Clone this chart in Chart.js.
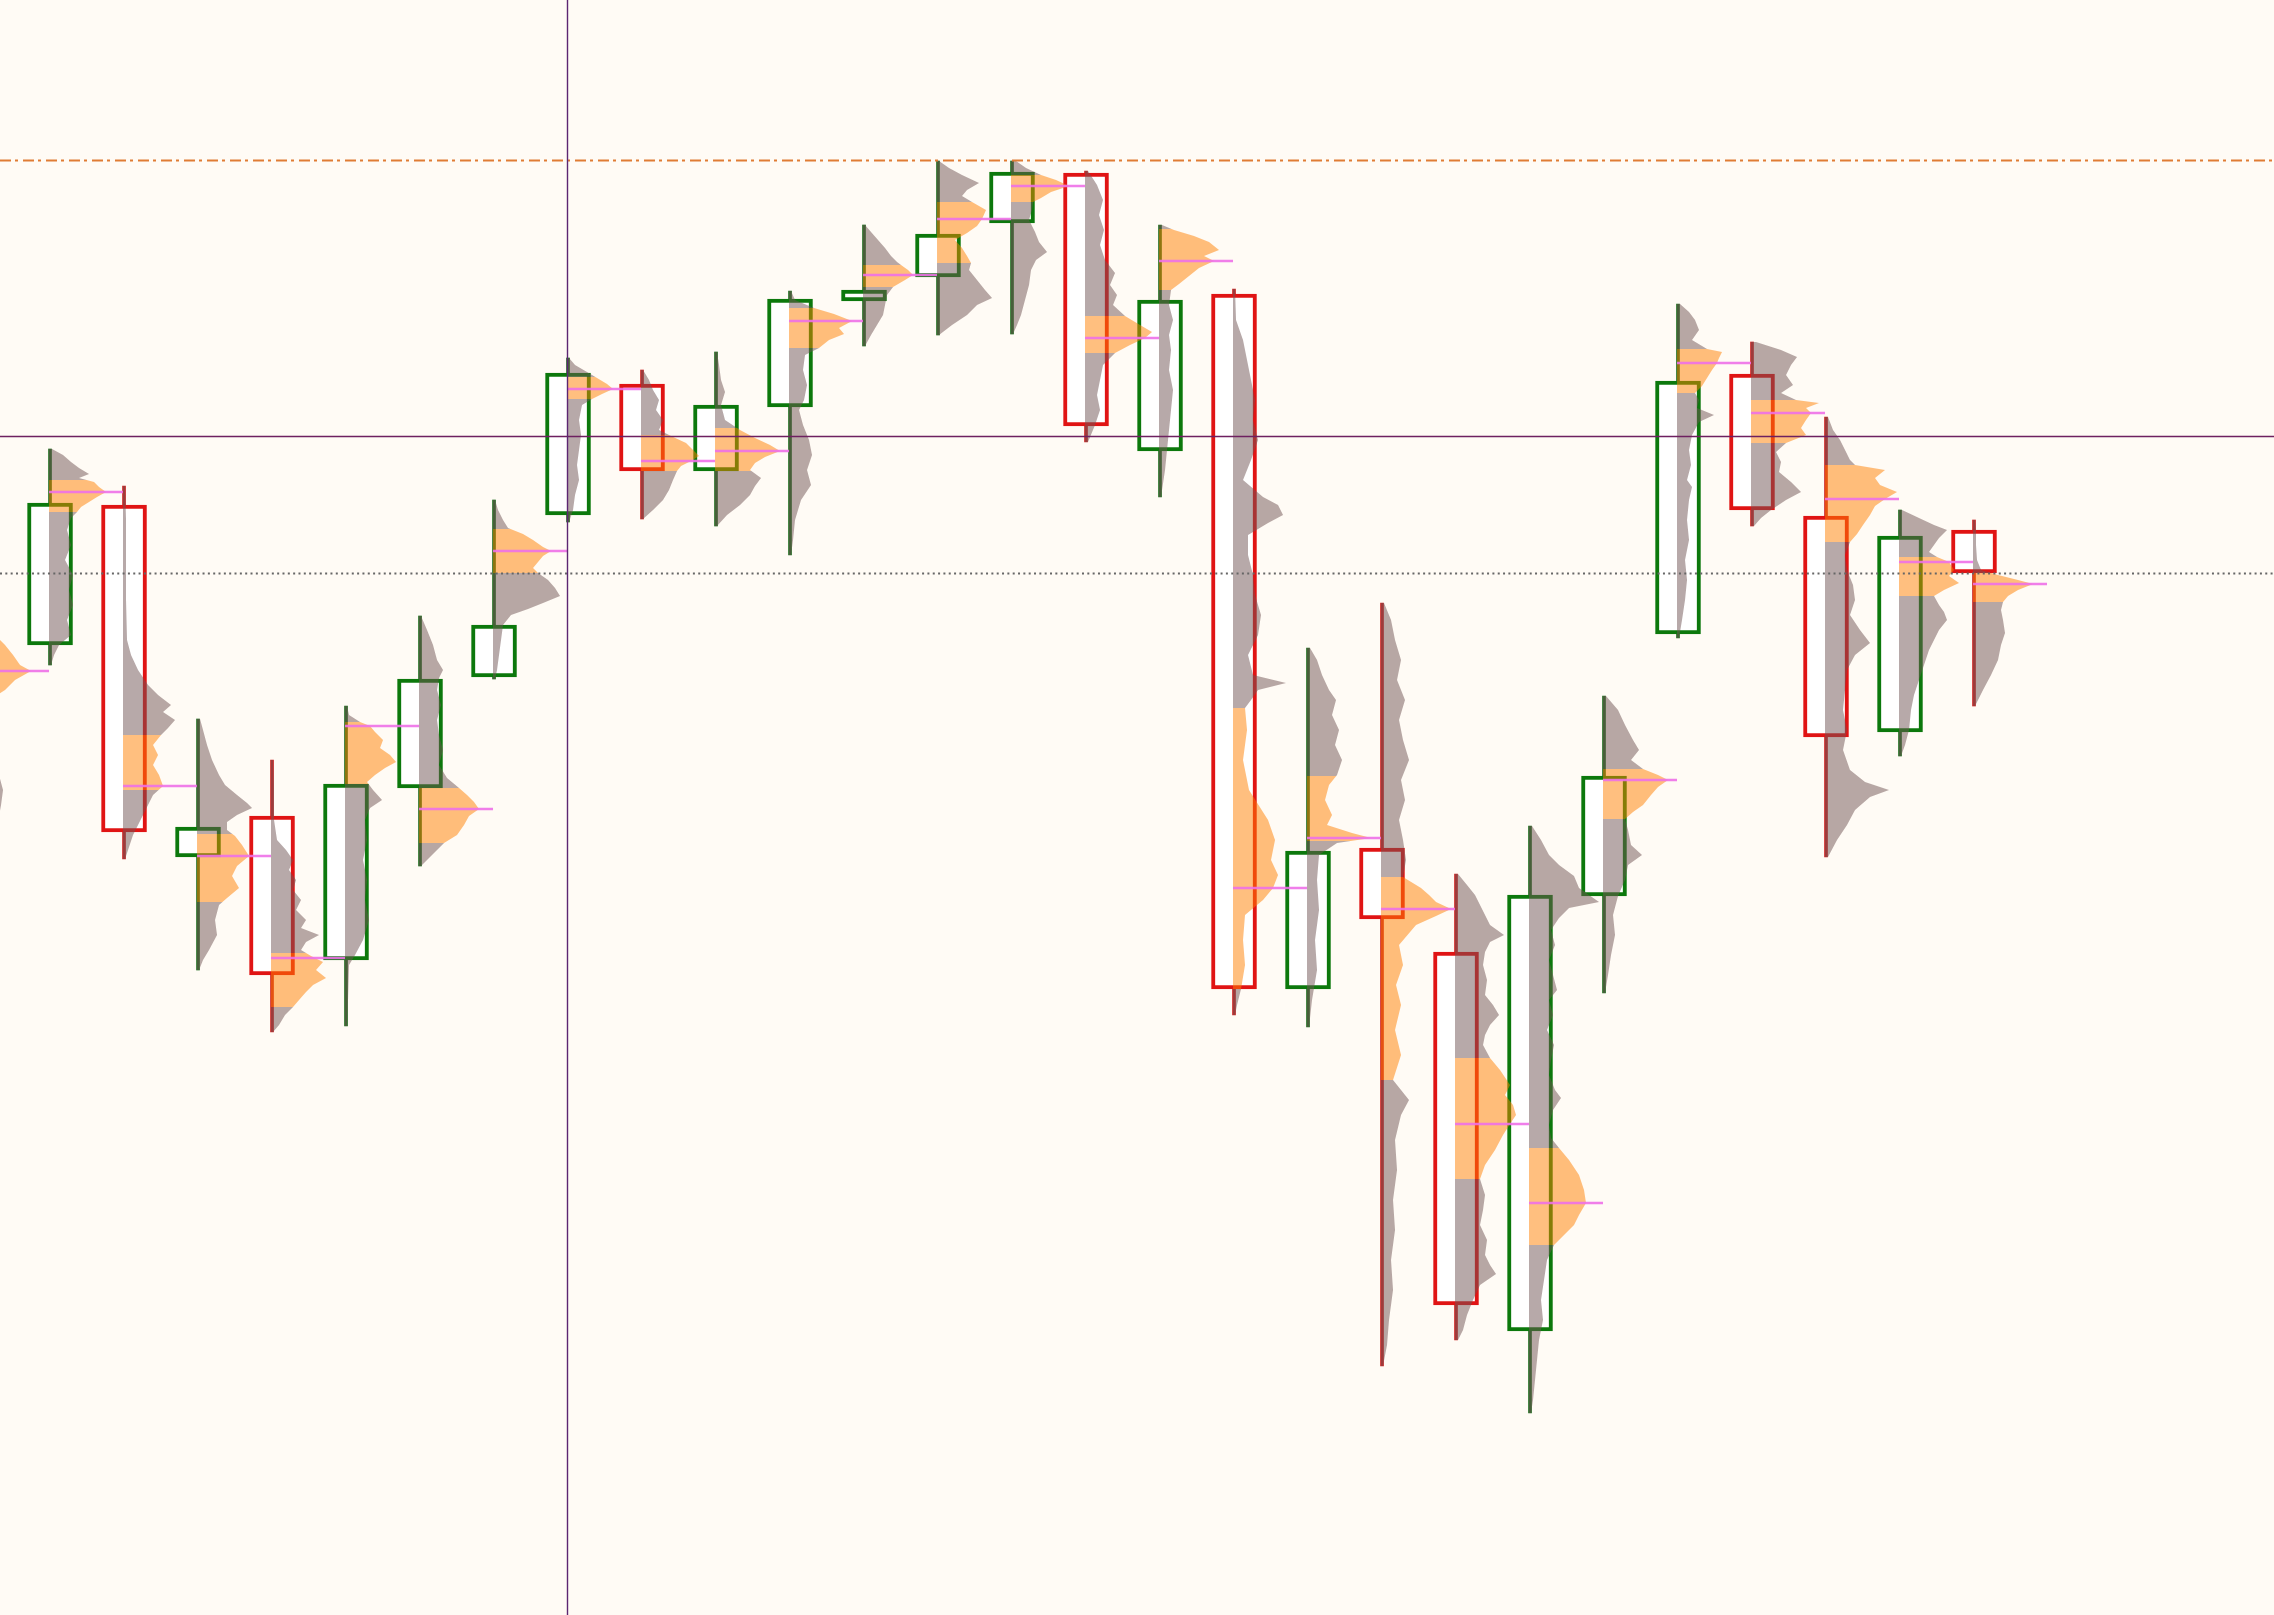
<!DOCTYPE html>
<html>
<head>
<meta charset="utf-8">
<script src="https://cdn.jsdelivr.net/npm/chart.js@4.4.1/dist/chart.umd.min.js"></script>
<style>
  html, body { margin: 0; padding: 0; background: #fffbf5; }
  canvas { display: block; }
</style>
</head>
<body>
<canvas id="chart" width="2274" height="1615"></canvas>
<script>
// Candles (index -1 is the one cut off at the left edge)
const candleIndex = [-1, 0, 1, 2, 3, 4, 5, 6, 7, 8, 9, 10, 11, 12, 13, 14, 15, 16, 17, 18, 19, 20, 21, 22, 23, 24, 25, 26];
const opens  = [1360, 1355, 1495, 1143, 1184, 1040, 1212, 1323, 1485, 1616, 1529, 1593, 1699, 1723, 1777, 1827, 1549, 1706, 1011, 1152, 1048, 669, 1104, 1366, 1626, 1484, 1268, 1470];
const highs  = [1400, 1551, 1514, 1281, 1240, 1294, 1384, 1500, 1642, 1630, 1648, 1709, 1775, 1839, 1839, 1829, 1775, 1711, 1352, 1397, 1126, 1174, 1304, 1696, 1658, 1583, 1490, 1480];
const lows   = [1160, 1335, 1141, 1030, 968, 974, 1134, 1321, 1478, 1481, 1474, 1445, 1654, 1665, 1666, 1558, 1503, 985, 973, 634, 660, 587, 1007, 1362, 1474, 1143, 1244, 1294];
const closes = [1240, 1497, 1168, 1173, 1025, 1216, 1321, 1375, 1627, 1529, 1595, 1701, 1710, 1766, 1828, 1574, 1700, 1011, 1149, 1081, 695, 1105, 1224, 1619, 1490, 1263, 1464, 1427];

// Volume profile per candle: point of control, value area, volume at price
const pocs    = [1329, 1508, 1214, 1144, 1042, 1274, 1191, 1449, 1611, 1539, 1549, 1679, 1725, 1781, 1814, 1662, 1739, 1112, 1162, 1091, 876, 797, 1220, 1637, 1587, 1501, 1438, 1416];
const vaHighs = [1362, 1520, 1265, 1166, 1047, 1278, 1212, 1471, 1623, 1565, 1572, 1692, 1735, 1798, 1825, 1684, 1771, 1292, 1224, 1123, 942, 852, 1231, 1651, 1600, 1535, 1443, 1427];
const vaLows  = [1305, 1488, 1210, 1098, 993, 1216, 1157, 1427, 1601, 1529, 1529, 1652, 1713, 1737, 1798, 1647, 1710, 1011, 1159, 920, 821, 755, 1181, 1607, 1557, 1458, 1404, 1398];

const profiles = [
  [[1400,2],[1380,6],[1365,20],[1355,30],[1345,38],[1335,45],[1329,56],[1320,40],[1310,30],[1300,15],[1270,10],[1240,20],[1210,28],[1195,26],[1173,22],[1160,3]],
  [[1551,3],[1545,14],[1538,22],[1532,30],[1526,40],[1522,30],[1518,45],[1513,50],[1508,57],[1503,48],[1498,40],[1493,32],[1488,28],[1482,22],[1470,18],[1455,22],[1440,16],[1425,24],[1410,20],[1395,24],[1380,18],[1365,22],[1355,10],[1345,5],[1335,2]],
  [[1514,2],[1480,3],[1440,3],[1400,3],[1360,4],[1345,8],[1330,15],[1315,25],[1305,35],[1295,48],[1288,40],[1280,52],[1272,45],[1265,38],[1255,30],[1245,35],[1235,30],[1225,36],[1214,40],[1205,30],[1195,25],[1185,20],[1175,15],[1165,10],[1150,5],[1141,2]],
  [[1281,3],[1270,6],[1255,10],[1240,15],[1225,22],[1215,28],[1205,40],[1197,50],[1192,55],[1185,40],[1178,30],[1170,30],[1164,38],[1155,45],[1144,52],[1134,40],[1124,35],[1112,42],[1102,30],[1095,22],[1080,18],[1065,20],[1050,12],[1040,6],[1030,2]],
  [[1240,2],[1210,3],[1180,3],[1160,6],[1150,15],[1140,22],[1130,18],[1120,25],[1110,22],[1100,30],[1090,25],[1080,35],[1072,30],[1065,48],[1058,35],[1050,30],[1044,40],[1038,52],[1030,45],[1022,55],[1015,42],[1008,35],[1000,28],[993,22],[985,14],[975,8],[968,2]],
  [[1294,2],[1285,4],[1278,15],[1274,25],[1268,30],[1260,38],[1252,35],[1245,45],[1238,51],[1232,40],[1225,30],[1218,22],[1210,28],[1200,37],[1192,25],[1180,20],[1160,22],[1140,18],[1120,22],[1100,20],[1080,24],[1060,18],[1045,10],[1035,4],[1000,3],[974,2]],
  [[1384,2],[1370,8],[1355,14],[1340,18],[1330,24],[1322,20],[1310,18],[1295,22],[1280,18],[1265,20],[1250,24],[1235,20],[1222,28],[1212,40],[1205,48],[1198,55],[1191,60],[1184,50],[1175,45],[1165,38],[1157,25],[1150,18],[1142,10],[1134,2]],
  [[1500,2],[1490,5],[1480,10],[1472,15],[1466,30],[1460,40],[1453,50],[1449,58],[1444,50],[1438,45],[1432,40],[1427,45],[1420,55],[1412,62],[1404,67],[1397,50],[1391,35],[1385,18],[1375,10],[1360,8],[1345,6],[1330,4],[1321,2]],
  [[1642,2],[1635,8],[1628,20],[1622,30],[1616,40],[1611,46],[1606,35],[1601,25],[1595,15],[1580,12],[1565,14],[1550,12],[1535,10],[1520,12],[1505,8],[1490,6],[1478,2]],
  [[1630,2],[1620,8],[1610,12],[1600,18],[1590,15],[1580,22],[1570,18],[1564,30],[1557,45],[1550,52],[1544,58],[1539,50],[1534,40],[1529,36],[1520,32],[1510,28],[1500,22],[1490,12],[1481,2]],
  [[1648,2],[1635,4],[1620,6],[1608,10],[1595,6],[1580,10],[1570,25],[1562,40],[1555,55],[1549,65],[1543,50],[1537,40],[1530,35],[1522,46],[1514,40],[1505,35],[1495,25],[1485,12],[1474,2]],
  [[1709,2],[1700,6],[1692,25],[1686,45],[1679,63],[1672,50],[1666,55],[1660,40],[1652,30],[1645,16],[1630,14],[1615,18],[1600,15],[1590,10],[1575,14],[1560,20],[1545,23],[1530,18],[1515,22],[1500,12],[1480,6],[1460,4],[1445,2]],
  [[1775,2],[1768,8],[1760,15],[1752,22],[1744,28],[1738,34],[1735,38],[1730,45],[1725,50],[1720,42],[1713,30],[1705,24],[1695,22],[1685,20],[1675,14],[1665,8],[1654,2]],
  [[1839,2],[1832,12],[1825,25],[1817,42],[1810,30],[1804,25],[1798,35],[1790,49],[1781,45],[1774,40],[1767,30],[1760,18],[1752,25],[1744,30],[1737,34],[1730,32],[1720,40],[1710,48],[1702,55],[1695,40],[1685,30],[1675,15],[1665,2]],
  [[1839,5],[1832,15],[1825,30],[1820,45],[1814,58],[1808,40],[1802,30],[1798,22],[1790,21],[1780,18],[1768,24],[1758,28],[1748,36],[1740,25],[1730,20],[1715,18],[1700,14],[1685,10],[1675,6],[1666,2]],
  [[1829,3],[1815,12],[1800,18],[1785,14],[1770,19],[1755,15],[1740,20],[1727,30],[1715,25],[1705,32],[1695,28],[1684,40],[1675,55],[1668,67],[1662,60],[1655,45],[1647,30],[1635,18],[1620,15],[1605,12],[1590,15],[1575,10],[1558,3]],
  [[1775,3],[1770,15],[1764,35],[1758,50],[1750,60],[1744,45],[1739,55],[1732,40],[1724,30],[1716,20],[1710,12],[1695,10],[1680,14],[1665,10],[1650,12],[1630,10],[1610,14],[1590,12],[1570,10],[1550,8],[1530,6],[1503,2]],
  [[1711,2],[1680,3],[1660,10],[1640,14],[1620,18],[1600,22],[1580,20],[1560,25],[1540,18],[1520,10],[1503,30],[1495,45],[1485,50],[1477,35],[1465,15],[1445,15],[1425,20],[1405,22],[1385,28],[1365,25],[1345,15],[1325,20],[1317,53],[1310,25],[1300,18],[1292,12],[1270,14],[1240,10],[1210,16],[1180,35],[1160,42],[1140,38],[1125,45],[1112,40],[1100,30],[1085,12],[1060,10],[1035,12],[1011,8],[995,4],[985,2]],
  [[1352,3],[1340,10],[1325,15],[1310,22],[1300,29],[1285,25],[1270,32],[1255,28],[1240,35],[1225,30],[1215,22],[1200,18],[1185,25],[1175,20],[1167,45],[1162,64],[1157,30],[1145,12],[1120,10],[1090,12],[1060,8],[1030,10],[1000,5],[973,2]],
  [[1397,3],[1380,10],[1360,14],[1340,20],[1320,16],[1300,24],[1280,18],[1260,22],[1240,28],[1220,20],[1200,24],[1180,18],[1160,22],[1140,25],[1123,22],[1112,40],[1105,48],[1098,55],[1091,70],[1084,55],[1075,35],[1055,18],[1035,22],[1015,15],[995,20],[970,14],[945,20],[920,12],[900,28],[885,20],[860,14],[830,16],[800,12],[770,14],[740,10],[710,12],[680,8],[655,6],[634,2]],
  [[1126,3],[1115,12],[1105,20],[1095,25],[1085,30],[1075,35],[1065,49],[1058,35],[1048,30],[1035,28],[1020,32],[1005,30],[995,38],[985,44],[975,35],[965,30],[955,28],[942,35],[930,45],[915,55],[905,50],[895,58],[885,61],[876,55],[865,48],[850,40],[835,30],[821,25],[805,30],[790,28],[775,25],[760,32],[745,30],[735,35],[726,41],[715,25],[700,18],[685,12],[670,8],[660,3]],
  [[1174,3],[1160,12],[1145,20],[1135,30],[1124,45],[1112,50],[1098,70],[1092,40],[1082,30],[1070,22],[1055,26],[1040,20],[1025,24],[1010,28],[1000,20],[985,24],[970,18],[955,25],[940,22],[925,20],[910,26],[902,32],[890,24],[875,20],[862,22],[852,30],[840,40],[825,50],[810,55],[797,57],[785,50],[775,45],[765,35],[755,25],[740,18],[720,15],[700,12],[680,14],[660,10],[640,8],[620,6],[600,4],[587,2]],
  [[1304,3],[1290,15],[1275,22],[1260,30],[1250,36],[1240,28],[1231,40],[1225,55],[1220,65],[1213,55],[1205,48],[1195,40],[1188,30],[1181,22],[1170,25],[1155,28],[1145,39],[1135,25],[1120,22],[1104,15],[1085,10],[1065,12],[1045,8],[1025,5],[1007,2]],
  [[1696,3],[1688,12],[1680,18],[1670,22],[1660,15],[1651,30],[1648,45],[1642,42],[1637,40],[1630,35],[1622,30],[1614,25],[1607,18],[1600,22],[1592,20],[1585,37],[1578,22],[1565,15],[1550,12],[1535,14],[1520,10],[1513,15],[1500,12],[1480,10],[1460,12],[1440,8],[1420,10],[1400,8],[1380,5],[1362,2]],
  [[1658,5],[1650,30],[1643,46],[1635,40],[1625,35],[1615,42],[1607,30],[1600,45],[1597,68],[1592,55],[1587,60],[1580,55],[1572,50],[1565,55],[1557,35],[1548,25],[1538,30],[1528,28],[1518,40],[1508,50],[1500,35],[1490,20],[1482,10],[1474,3]],
  [[1583,3],[1570,8],[1560,15],[1550,20],[1540,25],[1535,30],[1530,60],[1522,50],[1515,55],[1508,72],[1501,60],[1494,50],[1485,45],[1475,38],[1466,32],[1458,25],[1445,20],[1430,22],[1415,28],[1400,30],[1385,25],[1370,35],[1357,45],[1345,30],[1330,22],[1310,20],[1290,18],[1270,22],[1250,18],[1230,25],[1218,40],[1210,64],[1203,45],[1190,30],[1175,22],[1160,12],[1143,3]],
  [[1490,3],[1482,20],[1475,35],[1470,48],[1462,40],[1455,35],[1448,30],[1443,38],[1438,50],[1430,55],[1424,50],[1417,60],[1410,45],[1404,35],[1395,40],[1388,45],[1380,48],[1370,40],[1360,35],[1350,30],[1335,25],[1320,20],[1305,15],[1290,12],[1270,10],[1255,6],[1244,2]],
  [[1480,2],[1470,3],[1455,3],[1440,4],[1430,8],[1425,25],[1420,45],[1416,60],[1410,45],[1404,35],[1398,30],[1390,28],[1380,30],[1367,32],[1355,28],[1340,25],[1325,18],[1310,10],[1300,5],[1294,2]]
];

// Reference levels
const highLevel = 1840;     // dash-dot line
const pivotLevel = 1564;    // solid purple line
const lastPrice = closes[closes.length - 1];  // dotted line
const markerCandle = 7;     // vertical line

const SLOT_VOLUME = 74;     // volume that spans one candle slot

const UP_BORDER = '#0c780c', DOWN_BORDER = '#e01414';
const UP_WICK = '#1e6b1e', DOWN_WICK = '#cc2222';
const isUp = candleIndex.map((_, k) => closes[k] >= opens[k]);

const profilePlugin = {
    id: 'profiles',
    afterDatasetsDraw(chart) {
        const { ctx, scales: { x, y } } = chart;
        const slot = x.getPixelForValue(1) - x.getPixelForValue(0);

        candleIndex.forEach((idx, k) => {
            const levels = profiles[k];
            const x0 = x.getPixelForValue(idx) - 1;
            const top = y.getPixelForValue(levels[0][0]);
            const bottom = y.getPixelForValue(levels[levels.length - 1][0]);

            const path = new Path2D();
            path.moveTo(x0, top);
            levels.forEach(([p, v]) => path.lineTo(x0 + v / SLOT_VOLUME * slot, y.getPixelForValue(p)));
            path.lineTo(x0, bottom);
            path.closePath();

            const vaTop = y.getPixelForValue(vaHighs[k]);
            const vaBot = y.getPixelForValue(vaLows[k]);

            // outside value area
            ctx.save();
            ctx.beginPath();
            ctx.rect(x0, top - 2, slot * 2, vaTop - top + 2);
            ctx.rect(x0, vaBot, slot * 2, bottom - vaBot + 2);
            ctx.clip();
            ctx.fillStyle = 'rgba(112, 84, 84, 0.5)';
            ctx.fill(path);
            ctx.restore();

            // value area
            ctx.save();
            ctx.beginPath();
            ctx.rect(x0, vaTop, slot * 2, vaBot - vaTop);
            ctx.clip();
            ctx.fillStyle = 'rgba(255, 128, 0, 0.5)';
            ctx.fill(path);
            ctx.restore();

            // point of control
            const py = y.getPixelForValue(pocs[k]);
            ctx.save();
            ctx.strokeStyle = 'rgba(238, 112, 232, 0.9)';
            ctx.lineWidth = 2.5;
            ctx.beginPath();
            ctx.moveTo(x0, py);
            ctx.lineTo(x0 + slot, py);
            ctx.stroke();
            ctx.restore();
        });

        // reference lines on top
        const { left, right, top, bottom } = chart.chartArea;
        const hLine = (price, color, width, dash) => {
            const py = Math.round(y.getPixelForValue(price)) + 0.5;
            ctx.save();
            ctx.strokeStyle = color;
            ctx.lineWidth = width;
            ctx.setLineDash(dash);
            ctx.beginPath();
            ctx.moveTo(left, py);
            ctx.lineTo(right, py);
            ctx.stroke();
            ctx.restore();
        };
        hLine(highLevel, '#e07c34', 2, [11, 4, 3, 5]);
        hLine(pivotLevel, '#6e2060', 1.4, []);
        hLine(lastPrice, '#666666', 2, [2, 3.33]);

        const vx = Math.round(x.getPixelForValue(markerCandle)) - 0.5;
        ctx.save();
        ctx.strokeStyle = '#5c2672';
        ctx.lineWidth = 1.4;
        ctx.beginPath();
        ctx.moveTo(vx, top);
        ctx.lineTo(vx, bottom);
        ctx.stroke();
        ctx.restore();
    }
};

const bgPlugin = {
    id: 'bg',
    beforeDraw(chart) {
        const { ctx, width, height } = chart;
        ctx.save();
        ctx.fillStyle = '#fffbf5';
        ctx.fillRect(0, 0, width, height);
        ctx.restore();
    }
};

const ctx = document.getElementById('chart').getContext('2d');
const chart = new Chart(ctx, {
    type: 'bar',
    data: {
        datasets: [{
            label: 'Wicks',
            data: candleIndex.map((i, k) => ({ x: i, y: [lows[k], highs[k]] })),
            backgroundColor: isUp.map(u => u ? UP_WICK : DOWN_WICK),
            barThickness: 3,
            grouped: false,
            order: 2
        }, {
            label: 'Bodies',
            data: candleIndex.map((i, k) => ({ x: i, y: [opens[k], closes[k]] })),
            backgroundColor: '#ffffff',
            borderColor: isUp.map(u => u ? UP_BORDER : DOWN_BORDER),
            borderWidth: 4,
            borderSkipped: false,
            barThickness: 45,
            grouped: false,
            order: 1
        }]
    },
    options: {
        responsive: false,
        devicePixelRatio: 1,
        animation: false,
        layout: { padding: 0 },
        plugins: { legend: { display: false }, tooltip: { enabled: false } },
        scales: {
            x: { type: 'linear', display: false, min: -0.676, max: 30.054, offset: false },
            y: { display: false, min: 385, max: 2000 }
        }
    },
    plugins: [bgPlugin, profilePlugin]
});
</script>
</body>
</html>
